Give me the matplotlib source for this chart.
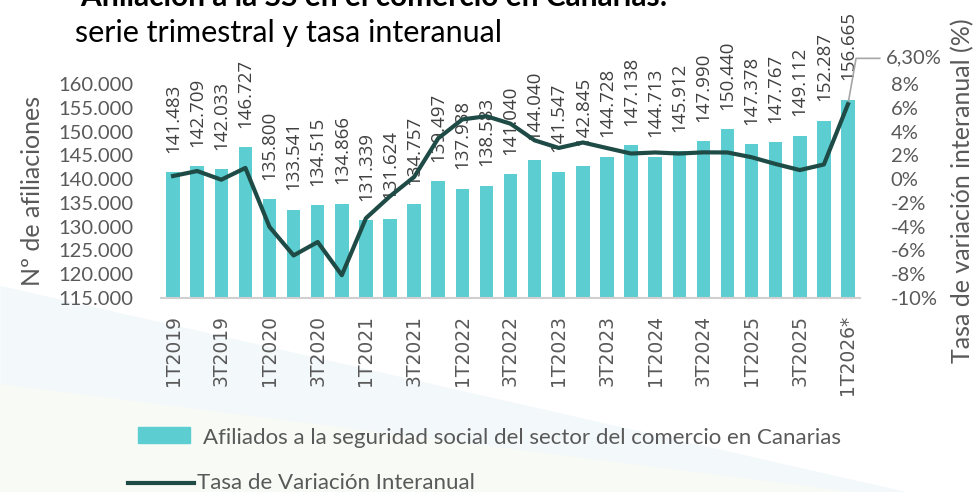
import numpy as np
import matplotlib.pyplot as plt
from matplotlib.patches import Rectangle
from matplotlib.lines import Line2D

# quarters, affiliates and year-on-year rate
quarters = ['1T2019', '2T2019', '3T2019', '4T2019',
            '1T2020', '2T2020', '3T2020', '4T2020',
            '1T2021', '2T2021', '3T2021', '4T2021',
            '1T2022', '2T2022', '3T2022', '4T2022',
            '1T2023', '2T2023', '3T2023', '4T2023',
            '1T2024', '2T2024', '3T2024', '4T2024',
            '1T2025', '2T2025', '3T2025', '4T2025',
            '1T2026*']
afiliados = [141483, 142709, 142033, 146727,
             135800, 133541, 134515, 134866,
             131339, 131624, 134757, 139497,
             137938, 138583, 141040, 144040,
             141547, 142845, 144728, 147138,
             144713, 145912, 147990, 150440,
             147378, 147767, 149112, 152287,
             156665]
tasa = [0.26, 0.68, -0.05, 0.94,
        -4.02, -6.42, -5.29, -8.08,
        -3.29, -1.44, 0.18, 3.43,
        5.02, 5.29, 4.66, 3.26,
        2.62, 3.08, 2.61, 2.15,
        2.24, 2.15, 2.25, 2.24,
        1.84, 1.27, 0.76, 1.23,
        6.30]
left_ticks = [115000, 120000, 125000, 130000, 135000, 140000, 145000, 150000, 155000, 160000]
right_ticks = [-10, -8, -6, -4, -2, 0, 2, 4, 6, 8]

bar_color = '#5ccdd0'
line_color = '#1f4b46'
txt = '#595959'
calibri = 'Lato'

fig = plt.figure(figsize=(9.73, 4.92), dpi=100)
fig.patch.set_facecolor('white')

# faint background swirl, lower left
bg = fig.add_axes([0, 0, 1, 1], zorder=-5)
bg.axis('off')
bg.set_xlim(0, 1); bg.set_ylim(0, 1)
xs = np.linspace(0, 1, 80)
bg.fill_between(xs, 0, 0.42 - 0.45*xs, where=xs < 0.94, color='#f3f8fa', lw=0)
bg.fill_between(xs, 0, 0.22 - 0.25*xs, where=xs < 0.9, color='#f8faf5', lw=0)

x = np.arange(len(quarters))
ax = fig.add_axes([0.1655, 0.3943, 0.7184, 0.435])
ax.set_facecolor('none')
ax.bar(x, afiliados, width=0.56, color=bar_color, zorder=2)
ax.set_ylim(115000, 160000)
ax.set_xlim(-0.5, len(quarters) - 0.5)
ax.set_yticks(left_ticks)
ax.set_yticklabels([f'{v:,}'.replace(',', '.') for v in left_ticks],
                   fontsize=14.5, color=txt, family=calibri)
ax.tick_params(axis='y', length=0, pad=20)
ax.set_xticks(x[::2])
ax.set_xticklabels(quarters[::2], rotation=90, fontsize=13.5, color=txt)
ax.tick_params(axis='x', length=0, pad=12)
for s in ['top', 'right', 'left']:
    ax.spines[s].set_visible(False)
ax.spines['bottom'].set_color('#d0d0d0')
ax.spines['bottom'].set_linewidth(1.5)
ax.set_ylabel('Nº de afiliaciones', fontsize=18, color=txt, family=calibri, labelpad=10)

for xi, v in zip(x, afiliados):
    ax.annotate(f'{v:,}'.replace(',', '.'), (xi, v), xytext=(0, 14), textcoords='offset points',
                rotation=90, ha='center', va='bottom', fontsize=13.5, color='#404040',
                family='Open Sans', annotation_clip=False, zorder=1)

ax2 = ax.twinx()
ax2.plot(x, tasa, color=line_color, lw=3, zorder=5, solid_joinstyle='round')
ax2.set_ylim(-10, 8)
ax2.set_yticks(right_ticks)
ax2.set_yticklabels([f'{v}%' for v in right_ticks], fontsize=14.5, color=txt, family=calibri)
ax2.tick_params(axis='y', length=0, pad=22)
for s in ['top', 'right', 'left', 'bottom']:
    ax2.spines[s].set_visible(False)
ax2.set_ylabel('Tasa de variación interanual (%)', fontsize=18, color=txt,
               family=calibri, labelpad=10)

# last-point label with leader line
ax2.annotate('6,30%', (x[-1], tasa[-1]), xytext=(27, 33), textcoords='offset points',
             ha='left', va='center', fontsize=14.5, color=txt, family=calibri,
             annotation_clip=False,
             arrowprops=dict(arrowstyle='-', color='#a6a6a6', lw=1.2,
                             connectionstyle='angle,angleA=0,angleB=80,rad=0',
                             shrinkA=2, shrinkB=2))

# titles (first line is cut by the top edge, as in the source)
fig.text(0.082, 1.006, 'Afiliación a la SS en el comercio en Canarias:', fontsize=21.5,
         fontweight='bold', family=calibri, color='black', va='center')
fig.text(0.077, 0.933, 'serie trimestral y tasa interanual', fontsize=22,
         family=calibri, color='black', va='center')

# legend
fig.patches.append(Rectangle((138/973, 1 - 443/492), 52/973, 16/492,
                             transform=fig.transFigure, color=bar_color, figure=fig))
fig.text(203/973, 1 - 438/492, 'Afiliados a la seguridad social del sector del comercio en Canarias',
         fontsize=16, color=txt, family=calibri, va='center')
fig.lines.append(Line2D([128/973, 194/973], [1 - 483/492, 1 - 483/492],
                        transform=fig.transFigure, color=line_color, lw=3, figure=fig))
fig.text(197/973, 1 - 483/492, 'Tasa de Variación Interanual',
         fontsize=16, color=txt, family=calibri, va='center')

fig.savefig('out.png', dpi=100)
